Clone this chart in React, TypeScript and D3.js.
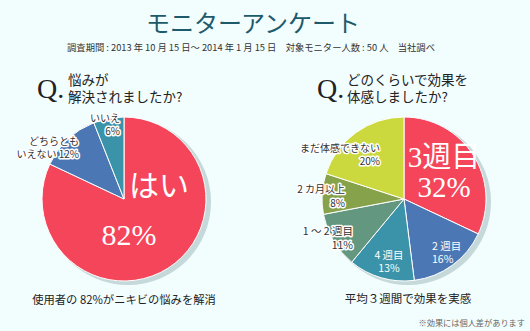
import React from "react";
import * as d3 from "d3";

const leftCategories = ["はい", "どちらとも\nいえない", "いいえ"];
const leftValues = [82, 12, 6];
const rightCategories = ["3週目", "2週目", "4週目", "1～2週目", "2カ月以上", "まだ体感できない"];
const rightValues = [32, 16, 13, 11, 8, 20];

const leftColors = ["#f5455a", "#4b78b4", "#3a93a8"];
const rightColors = ["#f5455a", "#4b78b4", "#3a93a8", "#63977f", "#86a24b", "#cbd93f"];

const W = 530;
const H = 331;
const R = 82;
const sansJP = "'Noto Sans CJK JP', sans-serif";
const serif = "'Liberation Serif', 'DejaVu Serif', 'Noto Sans CJK JP', serif";

type Lbl = { lines: string[]; dx: number; dy: number; anchor: string; size: number; white?: boolean; big?: boolean; lh?: number };

const leftLabelLayout: Lbl[] = [
  { lines: ["はい"], dx: 35, dy: -3, anchor: "middle", size: 30, white: true, big: true },
  { lines: ["どちらとも", "いえない 12%"], dx: -45, dy: -54, anchor: "end", size: 10, lh: 12.5 },
  { lines: ["いいえ", "6%"], dx: -4, dy: -77, anchor: "end", size: 10, lh: 12.5 },
];
const leftExtra: Lbl = { lines: ["82%"], dx: 5, dy: 46, anchor: "middle", size: 30, white: true, big: true };

const rightLabelLayout: Lbl[] = [
  { lines: ["3週目", "32%"], dx: 40, dy: -32, anchor: "middle", size: 29, white: true, big: true, lh: 30 },
  { lines: ["2 週目", "16%"], dx: 28, dy: 51, anchor: "start", size: 10.5, white: true, lh: 13 },
  { lines: ["4 週目", "13%"], dx: -15, dy: 60, anchor: "middle", size: 10.5, white: true, lh: 13 },
  { lines: ["1 ～ 2 週目", "11%"], dx: -51, dy: 36, anchor: "end", size: 10.5, lh: 13.5 },
  { lines: ["2 カ月以上", "8%"], dx: -59, dy: -6, anchor: "end", size: 10, lh: 13.5 },
  { lines: ["まだ体感できない", "20%"], dx: -24, dy: -47, anchor: "end", size: 10, lh: 13 },
];

function Pie({ cx, cy, values, colors, labels, extra }: { cx: number; cy: number; values: number[]; colors: string[]; labels: Lbl[]; extra?: Lbl }) {
  const pie = d3.pie<number>().sort(null).value((d) => d);
  const arcs = pie(values);
  const arc = d3.arc<d3.PieArcDatum<number>>().innerRadius(0).outerRadius(R);
  const renderLabel = (l: Lbl, key: string) =>
    l.lines.map((t, i) => (
      <text
        key={key + "-" + i}
        x={l.dx}
        y={l.dy + i * (l.lh ?? 12)}
        textAnchor={l.anchor}
        fontSize={l.size}
        fontFamily={l.big ? serif : sansJP}
        fill={l.white ? "#ffffff" : "#333333"}
        stroke={l.white ? "none" : "#ffffff"}
        strokeWidth={l.white ? 0 : 3}
        strokeLinejoin="round"
        style={{ paintOrder: "stroke" }}
      >
        {t}
      </text>
    ));
  return (
    <g transform={`translate(${cx},${cy})`}>
      <circle cx={4} cy={3} r={R + 1} fill="#c5d8da" />
      {arcs.map((a, i) => (
        <path key={i} d={arc(a) || ""} fill={colors[i]} stroke="#ffffff" strokeWidth={1} />
      ))}
      {labels.map((l, i) => renderLabel(l, "l" + i))}
      {extra && renderLabel(extra, "extra")}
    </g>
  );
}

export default function App() {
  return (
    <svg width={W} height={H} style={{ position: "absolute", left: 0, top: 0, display: "block" }}>
      <rect x={0} y={0} width={W} height={H} fill="#f2fdfe" />
      <text x={253} y={32} textAnchor="middle" fontSize={24} fontFamily={sansJP} fill="#1d5a6b">モニターアンケート</text>
      <text x={251} y={51} textAnchor="middle" fontSize={9.3} fontFamily={sansJP} fill="#333">
        調査期間 : 2013 年 10 月 15 日～ 2014 年 1 月 15 日　対象モニター人数 : 50 人　当社調べ
      </text>

      <text x={37} y={98} fontSize={28} fontFamily={serif} fill="#222">Q.</text>
      <text x={68} y={85} fontSize={13.5} fontFamily={sansJP} fill="#222">悩みが</text>
      <text x={68} y={102} fontSize={13.5} fontFamily={sansJP} fill="#222">解決されましたか?</text>

      <text x={317} y={98} fontSize={28} fontFamily={serif} fill="#222">Q.</text>
      <text x={347} y={85} fontSize={13.5} fontFamily={sansJP} fill="#222">どのくらいで効果を</text>
      <text x={347} y={102} fontSize={13.5} fontFamily={sansJP} fill="#222">体感しましたか?</text>

      <Pie cx={124} cy={199} values={leftValues} colors={leftColors} labels={leftLabelLayout} extra={leftExtra} />
      <Pie cx={404} cy={199} values={rightValues} colors={rightColors} labels={rightLabelLayout} />

      <text x={124} y={304} textAnchor="middle" fontSize={11.3} fontFamily={sansJP} fill="#222">使用者の 82%がニキビの悩みを解消</text>
      <text x={408} y={303} textAnchor="middle" fontSize={11.5} fontFamily={sansJP} fill="#222">平均３週間で効果を実感</text>
      <text x={525} y={326} textAnchor="end" fontSize={8.2} fontFamily={sansJP} fill="#666">※効果には個人差があります</text>
    </svg>
  );
}
